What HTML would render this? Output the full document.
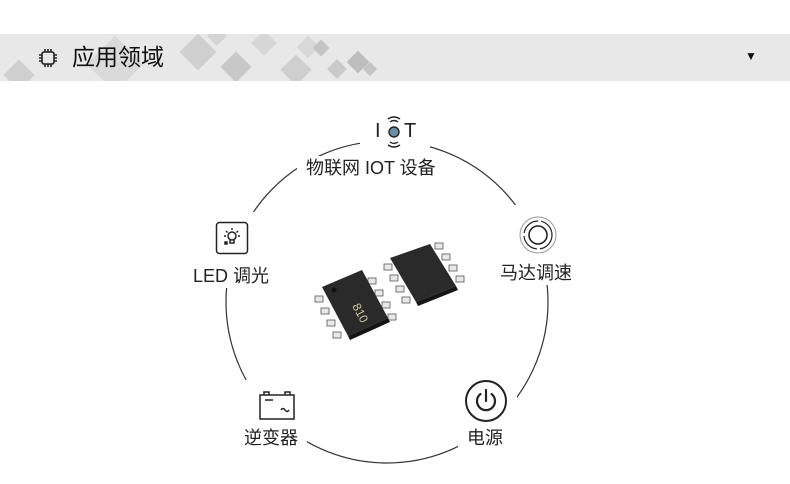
<!DOCTYPE html>
<html><head><meta charset="utf-8"><style>
body{margin:0;width:790px;height:484px;background:#fff;overflow:hidden;position:relative;font-family:"Liberation Sans","Noto Sans CJK SC",sans-serif;color:#222}
.hdr{position:absolute;left:0;top:34px;width:790px;height:47px;background:#e8e8e8;overflow:hidden}
.lbl{position:absolute;background:#fff;font-size:18px;line-height:24px;white-space:nowrap;padding:0 9px}
</style></head><body>
<div class="hdr">
<svg width="790" height="47" style="position:absolute;left:0;top:0">
<g fill="#cfcfcf">
<rect x="8" y="30" width="22" height="22" transform="rotate(45 19 41)"/>
<rect x="95" y="10" width="40" height="40" transform="rotate(45 115 30)" fill="#dadada"/>
<rect x="185" y="5" width="26" height="26" transform="rotate(45 198 18)"/>
<rect x="225" y="22" width="22" height="22" transform="rotate(45 236 33)" fill="#c8c8c8"/>
<rect x="255" y="0" width="18" height="18" transform="rotate(45 264 9)" fill="#d6d6d6"/>
<rect x="285" y="25" width="22" height="22" transform="rotate(45 296 36)"/>
<rect x="300" y="5" width="16" height="16" transform="rotate(45 308 13)" fill="#d8d8d8"/>
<rect x="315" y="8" width="12" height="12" transform="rotate(45 321 14)" fill="#c4c4c4"/>
<rect x="350" y="20" width="16" height="16" transform="rotate(45 358 28)" fill="#bdbdbd"/>
<rect x="330" y="28" width="14" height="14" transform="rotate(45 337 35)" fill="#cacaca"/>
<rect x="365" y="30" width="10" height="10" transform="rotate(45 370 35)" fill="#c4c4c4"/>
<rect x="210" y="-5" width="14" height="14" transform="rotate(45 217 2)" fill="#d4d4d4"/>
</g>
</svg>
<svg width="22" height="22" style="position:absolute;left:37px;top:13px" viewBox="0 0 22 22" fill="none" stroke="#222" stroke-width="1.6">
<rect x="5" y="5" width="12" height="12" rx="2"/>
<path d="M8 2v3M11 2v3M14 2v3M8 17v3M11 17v3M14 17v3M2 8h3M2 11h3M2 14h3M17 8h3M17 11h3M17 14h3"/>
</svg>
<div style="position:absolute;left:72px;top:8px;font-size:23px;line-height:30px;color:#111">应用领域</div>
<div style="position:absolute;left:745px;top:15px;font-size:12px;color:#111">▼</div>
</div>

<svg width="790" height="484" style="position:absolute;left:0;top:0">
<circle cx="387" cy="302" r="161" fill="none" stroke="#333" stroke-width="1.2"/>
</svg>

<div style="position:absolute;left:360px;top:108px;width:70px;height:50px;background:#fff"></div>
<div style="position:absolute;left:375px;top:120px;font-size:20px;line-height:22px;color:#222">I</div>
<div style="position:absolute;left:404px;top:120px;font-size:20px;line-height:22px;color:#222">T</div>
<svg width="24" height="36" style="position:absolute;left:382px;top:114px" viewBox="0 0 24 36" fill="none" stroke="#222" stroke-width="1.4">
<path d="M6 5q6-4 12 0M8 8q4-3 8 0M6 31q6 4 12 0M8 28q4 3 8 0"/>
<circle cx="12" cy="18" r="5" fill="#6d8ea5" stroke="#222"/>
</svg>
<div class="lbl" style="left:297px;top:156px">物联网 IOT 设备</div>

<div style="position:absolute;left:205px;top:212px;width:56px;height:54px;background:#fff"></div>
<svg width="34" height="34" style="position:absolute;left:215px;top:221px" viewBox="0 0 34 34" fill="none" stroke="#222" stroke-width="1.5">
<rect x="1.5" y="1.5" width="31" height="31" rx="3"/>
<circle cx="17" cy="15" r="4"/><path d="M15 19v3h4v-3M17 7v2M11 10l1.5 1.5M23 10l-1.5 1.5M9 15h2M23 15h2"/>
<rect x="10" y="21" width="2" height="2" fill="#222"/>
</svg>
<div class="lbl" style="left:184px;top:264px">LED 调光</div>

<div style="position:absolute;left:508px;top:205px;width:60px;height:60px;background:#fff"></div>
<svg width="40" height="40" style="position:absolute;left:518px;top:215px" viewBox="0 0 40 40" fill="none" stroke="#222">
<circle cx="20" cy="20" r="18" stroke="#999" stroke-width="1"/>
<circle cx="20" cy="20" r="14" stroke-width="1.2" stroke-dasharray="20 3"/>
<circle cx="20" cy="20" r="9" stroke-width="1.6"/>
</svg>
<div class="lbl" style="left:491px;top:261px">马达调速</div>

<div style="position:absolute;left:245px;top:380px;width:60px;height:50px;background:#fff"></div>
<svg width="38" height="30" style="position:absolute;left:258px;top:390px" viewBox="0 0 38 30" fill="none" stroke="#222" stroke-width="1.5">
<path d="M2 5h34v24H2zM6 5V2h5v3M27 5V2h5v3M7 10h8M23 20q2-3 4 0t4 0"/>
</svg>
<div class="lbl" style="left:235px;top:426px">逆变器</div>

<div style="position:absolute;left:455px;top:370px;width:62px;height:60px;background:#fff"></div>
<svg width="44" height="44" style="position:absolute;left:464px;top:379px" viewBox="0 0 44 44" fill="none" stroke="#222">
<circle cx="22" cy="22" r="20" stroke-width="2"/>
<path d="M16.5 15a9 9 0 1 0 11 0M22 11v11" stroke-width="2.2" stroke-linecap="round"/>
</svg>
<div class="lbl" style="left:458px;top:426px">电源</div>

<svg width="180" height="110" style="position:absolute;left:300px;top:240px" viewBox="0 0 180 110">
<g fill="#e8e8e8" stroke="#555" stroke-width="0.8">
<rect x="15" y="56" width="8" height="6"/><rect x="21" y="68" width="8" height="6"/><rect x="27" y="80" width="8" height="6"/><rect x="33" y="92" width="8" height="6"/>
<rect x="68" y="38" width="8" height="6"/><rect x="75" y="50" width="8" height="6"/><rect x="82" y="62" width="8" height="6"/><rect x="88" y="74" width="8" height="6"/>
<rect x="84" y="24" width="8" height="6"/><rect x="90" y="35" width="8" height="6"/><rect x="96" y="46" width="8" height="6"/><rect x="102" y="57" width="8" height="6"/>
<rect x="135" y="3" width="8" height="6"/><rect x="142" y="14" width="8" height="6"/><rect x="149" y="25" width="8" height="6"/><rect x="156" y="36" width="8" height="6"/>
</g>
<polygon points="22,47 62,30 88,78 48,96" fill="#2a2a2a"/>
<polygon points="48,96 88,78 90,82 50,100" fill="#151515"/>
<polygon points="90,18 130,4 156,46 116,62" fill="#2a2a2a"/>
<polygon points="116,62 156,46 158,50 118,66" fill="#151515"/>
<circle cx="34" cy="50" r="2.5" fill="#111"/>
<text x="52" y="66" font-size="12" fill="#cfc7a0" transform="rotate(62 52 66)" font-family="Liberation Sans">810</text>
</svg>
</body></html>
